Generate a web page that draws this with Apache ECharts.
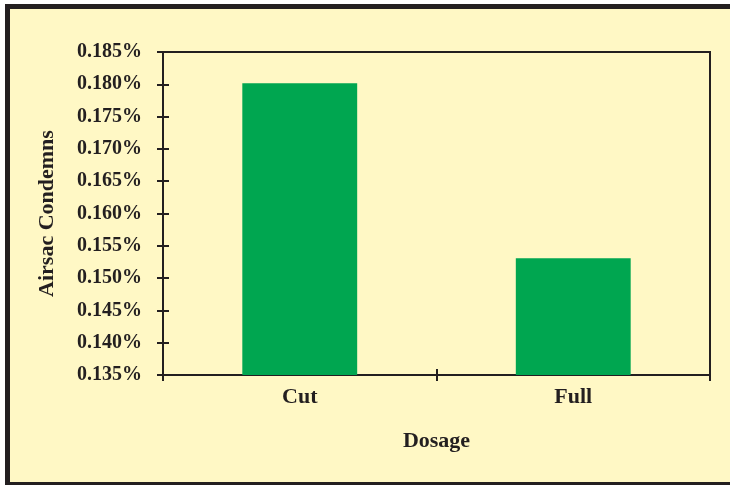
<!DOCTYPE html>
<html><head><meta charset="utf-8">
<script src="https://cdn.jsdelivr.net/npm/echarts@6/dist/echarts.min.js"></script>
<style>html,body{margin:0;padding:0;background:#fff}#c{width:730px;height:485px}</style>
</head><body><div id="c"></div>
<script>
const categories = ['Cut', 'Full'];
const values = [0.18015, 0.15307];
const yMin = 0.135, yMax = 0.185, yStep = 0.005;

const dark = '#231F20';
const font = '"Liberation Serif", "DejaVu Serif", serif';
const chart = echarts.init(document.getElementById('c'));
const tickLabel = v => v.toFixed(3) + '%';
chart.setOption({
  animation: false,
  backgroundColor: '#ffffff',
  graphic: [{
    type: 'rect', z: -10, silent: true,
    shape: { x: 7.5, y: 6.5, width: 740, height: 478 },
    style: { fill: '#FFF8C5', stroke: dark, lineWidth: 5 }
  }],
  grid: { left: 163, right: 20, top: 52, bottom: 110, show: true, borderColor: dark, borderWidth: 2, backgroundColor: 'transparent' },
  xAxis: [{
    type: 'category', data: categories, position: 'bottom',
    axisLine: { lineStyle: { color: dark, width: 2 } },
    axisTick: { show: true, inside: false, length: 6, lineStyle: { color: dark, width: 2 } },
    axisLabel: { color: dark, fontFamily: font, fontWeight: 'bold', fontSize: 22, margin: 11 },
    name: 'Dosage', nameLocation: 'middle', nameGap: 55,
    nameTextStyle: { color: dark, fontFamily: font, fontWeight: 'bold', fontSize: 22 }
  }, {
    type: 'category', data: categories, position: 'bottom',
    axisLine: { show: false },
    axisTick: { show: true, inside: true, length: 6, lineStyle: { color: dark, width: 2 } },
    axisLabel: { show: false }
  }],
  yAxis: [{
    type: 'value', min: yMin, max: yMax, interval: yStep,
    axisLine: { show: true, lineStyle: { color: dark, width: 2 } },
    axisTick: { show: true, inside: false, length: 6, lineStyle: { color: dark, width: 2 } },
    splitLine: { show: false },
    axisLabel: { color: dark, fontFamily: font, fontWeight: 'bold', fontSize: 20, margin: 21, formatter: tickLabel },
    name: 'Airsac Condemns', nameLocation: 'middle', nameGap: 105, nameRotate: 90,
    nameTextStyle: { color: dark, fontFamily: font, fontWeight: 'bold', fontSize: 22 }
  }, {
    type: 'value', min: yMin, max: yMax, interval: yStep, position: 'left',
    axisLine: { show: false },
    axisTick: { show: true, inside: true, length: 6, lineStyle: { color: dark, width: 2 } },
    splitLine: { show: false },
    axisLabel: { show: false }
  }],
  series: [{
    type: 'bar', data: values, barWidth: '42%',
    itemStyle: { color: '#00A650' }
  }]
});
</script></body></html>
